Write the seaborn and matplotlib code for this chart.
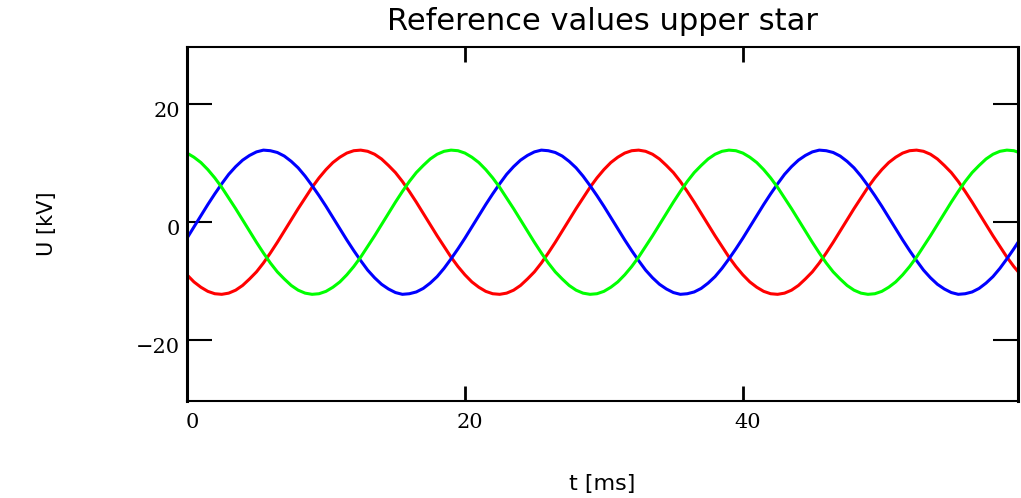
import matplotlib
matplotlib.use("Agg")
import matplotlib.pyplot as plt
import matplotlib.transforms as mtransforms
import seaborn as sns
import pandas as pd

# Sample times [ms], every 0.5 ms from 0 to 60
t_ms = [i * 0.5 for i in range(121)]

# Phase voltages of the upper star [kV]
u_red = [
    -8.9, -10.1, -11.0, -11.7, -12.1, -12.2, -12.0, -11.5, -10.7, -9.6,
    -8.4, -6.9, -5.2, -3.4, -1.5, 0.4, 2.3, 4.1, 5.9, 7.5,
    8.9, 10.1, 11.0, 11.7, 12.1, 12.2, 12.0, 11.5, 10.7, 9.6,
    8.4, 6.9, 5.2, 3.4, 1.5, -0.4, -2.3, -4.1, -5.9, -7.5,
    -8.9, -10.1, -11.0, -11.7, -12.1, -12.2, -12.0, -11.5, -10.7, -9.6,
    -8.4, -6.9, -5.2, -3.4, -1.5, 0.4, 2.3, 4.1, 5.9, 7.5,
    8.9, 10.1, 11.0, 11.7, 12.1, 12.2, 12.0, 11.5, 10.7, 9.6,
    8.4, 6.9, 5.2, 3.4, 1.5, -0.4, -2.3, -4.1, -5.9, -7.5,
    -8.9, -10.1, -11.0, -11.7, -12.1, -12.2, -12.0, -11.5, -10.7, -9.6,
    -8.4, -6.9, -5.2, -3.4, -1.5, 0.4, 2.3, 4.1, 5.9, 7.5,
    8.9, 10.1, 11.0, 11.7, 12.1, 12.2, 12.0, 11.5, 10.7, 9.6,
    8.4, 6.9, 5.2, 3.4, 1.5, -0.4, -2.3, -4.1, -5.9, -7.5,
    -8.9,
]
u_blue = [
    -2.7, -0.8, 1.1, 3.0, 4.8, 6.5, 8.1, 9.4, 10.5, 11.3,
    11.9, 12.2, 12.1, 11.8, 11.2, 10.3, 9.2, 7.8, 6.2, 4.5,
    2.7, 0.8, -1.1, -3.0, -4.8, -6.5, -8.1, -9.4, -10.5, -11.3,
    -11.9, -12.2, -12.1, -11.8, -11.2, -10.3, -9.2, -7.8, -6.2, -4.5,
    -2.7, -0.8, 1.1, 3.0, 4.8, 6.5, 8.1, 9.4, 10.5, 11.3,
    11.9, 12.2, 12.1, 11.8, 11.2, 10.3, 9.2, 7.8, 6.2, 4.5,
    2.7, 0.8, -1.1, -3.0, -4.8, -6.5, -8.1, -9.4, -10.5, -11.3,
    -11.9, -12.2, -12.1, -11.8, -11.2, -10.3, -9.2, -7.8, -6.2, -4.5,
    -2.7, -0.8, 1.1, 3.0, 4.8, 6.5, 8.1, 9.4, 10.5, 11.3,
    11.9, 12.2, 12.1, 11.8, 11.2, 10.3, 9.2, 7.8, 6.2, 4.5,
    2.7, 0.8, -1.1, -3.0, -4.8, -6.5, -8.1, -9.4, -10.5, -11.3,
    -11.9, -12.2, -12.1, -11.8, -11.2, -10.3, -9.2, -7.8, -6.2, -4.5,
    -2.7,
]
u_green = [
    11.7, 11.0, 10.1, 8.9, 7.5, 5.9, 4.1, 2.3, 0.4, -1.5,
    -3.4, -5.2, -6.9, -8.4, -9.6, -10.7, -11.5, -12.0, -12.2, -12.1,
    -11.7, -11.0, -10.1, -8.9, -7.5, -5.9, -4.1, -2.3, -0.4, 1.5,
    3.4, 5.2, 6.9, 8.4, 9.6, 10.7, 11.5, 12.0, 12.2, 12.1,
    11.7, 11.0, 10.1, 8.9, 7.5, 5.9, 4.1, 2.3, 0.4, -1.5,
    -3.4, -5.2, -6.9, -8.4, -9.6, -10.7, -11.5, -12.0, -12.2, -12.1,
    -11.7, -11.0, -10.1, -8.9, -7.5, -5.9, -4.1, -2.3, -0.4, 1.5,
    3.4, 5.2, 6.9, 8.4, 9.6, 10.7, 11.5, 12.0, 12.2, 12.1,
    11.7, 11.0, 10.1, 8.9, 7.5, 5.9, 4.1, 2.3, 0.4, -1.5,
    -3.4, -5.2, -6.9, -8.4, -9.6, -10.7, -11.5, -12.0, -12.2, -12.1,
    -11.7, -11.0, -10.1, -8.9, -7.5, -5.9, -4.1, -2.3, -0.4, 1.5,
    3.4, 5.2, 6.9, 8.4, 9.6, 10.7, 11.5, 12.0, 12.2, 12.1,
    11.7,
]

phases = ["L1", "L2", "L3"]
phase_colors = {"L1": "#ff0000", "L2": "#0000ff", "L3": "#00ff00"}

x_ticks = [0, 20, 40]
y_ticks = [-20, 0, 20]
y_tick_labels = ["\u221220", "0", "20"]

df = pd.concat(
    [
        pd.DataFrame({"t": t_ms, "U": u_red, "phase": phases[0]}),
        pd.DataFrame({"t": t_ms, "U": u_blue, "phase": phases[1]}),
        pd.DataFrame({"t": t_ms, "U": u_green, "phase": phases[2]}),
    ],
    ignore_index=True,
)

sns.set_style("ticks")
plt.rcParams["font.family"] = ["DejaVu Sans"]
plt.rcParams["text.color"] = "black"
plt.rcParams["axes.labelcolor"] = "black"
plt.rcParams["xtick.color"] = "black"
plt.rcParams["ytick.color"] = "black"

fig = plt.figure(figsize=(10.21, 4.98), dpi=100)
ax = fig.add_axes([187 / 1021, 97.3 / 498, 831 / 1021, 354 / 498])

sns.lineplot(
    data=df, x="t", y="U", hue="phase", hue_order=phases,
    palette=phase_colors, estimator=None, sort=False,
    linewidth=2.2, legend=False, ax=ax,
)

ax.set_xlim(0, 59.8)
ax.set_ylim(-30.2, 29.7)
ax.set_xticks(x_ticks)
ax.set_yticks(y_ticks)
ax.set_xticklabels([str(v) for v in x_ticks], family="DejaVu Serif",
                   fontsize=15, color="black")
ax.set_yticklabels(y_tick_labels, family="DejaVu Serif", fontsize=15,
                   color="black")

for side in ("left", "right"):
    ax.spines[side].set_linewidth(2.2)
for side in ("top", "bottom"):
    ax.spines[side].set_linewidth(1.5)
for sp in ax.spines.values():
    sp.set_color("black")
    sp.set_visible(True)

ax.tick_params(axis="x", direction="in", length=11, width=2.0, top=True,
               bottom=True, pad=9, colors="black")
ax.tick_params(axis="y", direction="in", length=18, width=1.5, left=True,
               right=True, pad=5, colors="black")

# small shifts of the tick labels
dx = mtransforms.ScaledTranslation(0.05, 0, fig.dpi_scale_trans)
for lab in ax.get_xticklabels():
    lab.set_transform(lab.get_transform() + dx)
dy = mtransforms.ScaledTranslation(0, -0.05, fig.dpi_scale_trans)
for lab in ax.get_yticklabels():
    lab.set_transform(lab.get_transform() + dy)

ax.set_title("Reference values upper star", fontsize=22, pad=12, color="black")
ax.set_xlabel("t [ms]", fontsize=16, color="black")
ax.set_ylabel("U [kV]", fontsize=15, color="black")
ax.xaxis.set_label_coords(0.5, -0.207)
ax.yaxis.set_label_coords(-0.157, 0.5)

fig.savefig("out.png", dpi=100, facecolor="white")
